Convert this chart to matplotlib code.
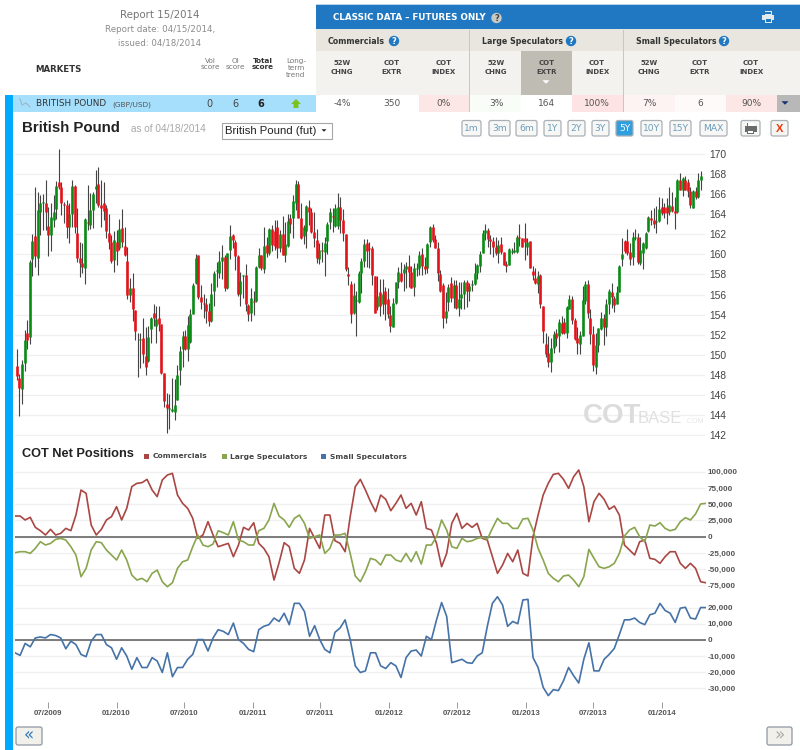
import pandas as pd
import numpy as np
import matplotlib.pyplot as plt
import matplotlib.dates as mdates
from matplotlib.patches import Rectangle, Circle, Polygon, FancyBboxPatch
from matplotlib.ticker import FuncFormatter

# weekly GBP/USD futures
opens = [148.9,147.7,146.6,149.2,152.2,151.8,159.5,161.8,159.6,164.2,
    165.1,165.1,162.8,161.9,163.4,164.5,167.2,166.7,165.0,164.9,
    162.7,164.0,166.8,162.1,159.6,159.1,158.6,163.2,162.9,164.4,
    166.5,167.0,164.9,165.1,164.6,162.1,161.2,159.4,161.2,160.6,
    162.6,160.8,159.3,156.0,156.6,154.5,151.5,151.5,151.7,149.9,
    149.4,152.6,154.2,152.9,153.7,153.1,148.2,145.1,144.6,144.4,
    144.3,145.5,148.5,150.6,151.9,150.6,151.3,154.1,157.1,159.9,
    155.8,155.2,155.1,154.4,153.4,156.4,158.3,158.1,159.3,159.7,
    156.6,160.4,161.9,161.2,159.8,156.1,157.8,157.9,155.0,154.2,
    155.4,155.4,158.7,159.9,158.5,160.9,160.1,162.5,162.3,162.7,
    160.6,162.0,159.9,160.8,163.6,163.6,165.1,167.0,163.6,161.8,
    162.3,164.7,164.2,162.2,161.4,159.5,160.4,160.2,161.3,163.2,
    163.8,162.8,162.8,164.7,163.4,162.0,158.0,157.0,154.2,155.4,
    155.3,158.1,159.3,161.1,160.6,160.6,157.8,154.8,156.3,155.1,
    156.4,155.6,154.0,152.8,155.2,157.2,158.1,158.1,158.5,158.8,
    158.2,156.7,158.5,158.6,160.0,158.8,158.6,161.2,162.7,161.5,
    160.6,158.0,156.9,153.7,155.3,157.1,155.7,156.9,154.7,155.7,
    156.1,157.2,156.4,156.9,157.0,158.1,158.8,160.1,162.1,162.4,
    161.5,161.3,160.7,160.1,161.0,160.2,159.0,158.9,160.2,160.2,
    160.2,161.7,161.6,161.6,160.7,161.3,158.3,157.6,157.0,157.9,
    154.9,151.1,150.2,149.3,150.7,152.2,151.9,153.2,153.3,152.2,
    154.6,155.6,153.5,151.7,151.1,151.9,155.4,157.0,153.7,152.1,
    148.8,151.0,152.6,153.7,152.8,155.1,156.3,155.7,155.1,156.3,
    159.5,161.3,161.3,160.2,159.7,161.6,161.7,159.1,160.1,160.6,
    162.3,163.6,163.4,163.2,163.3,164.7,164.7,164.7,164.2,164.8,
    164.3,164.2,167.4,166.4,167.4,167.2,166.3,164.6,166.3,165.7,
    167.4]
highs = [150.6,148.1,149.5,152.5,153.5,159.4,162.0,166.7,166.2,165.9,
    166.0,167.4,164.7,165.1,165.9,167.3,170.5,167.2,165.2,165.4,
    165.1,167.4,166.9,164.6,161.2,161.1,163.6,166.9,166.1,166.2,
    168.4,168.7,167.4,167.2,164.9,164.0,161.9,162.3,162.4,163.5,
    164.5,162.7,160.7,157.6,158.1,154.5,152.2,152.2,153.7,152.8,
    152.9,153.8,155.1,154.9,154.9,153.1,148.2,146.2,146.1,147.7,
    147.6,149.0,150.9,152.4,152.5,153.9,154.6,157.1,160.0,159.9,
    156.9,156.1,155.7,155.2,157.1,158.3,159.2,160.3,160.9,159.9,
    160.1,162.9,162.0,161.4,159.9,158.2,157.9,159.0,155.1,156.6,
    156.4,158.8,160.6,159.9,162.7,161.7,162.6,162.9,163.4,163.4,
    162.4,163.8,163.2,164.0,164.0,165.9,167.4,167.3,165.1,162.9,
    164.9,165.4,164.6,164.2,162.5,161.1,161.2,161.7,163.2,164.6,
    164.6,165.0,166.1,165.7,164.5,162.0,158.7,157.3,157.1,156.4,
    158.3,159.6,161.5,161.5,161.2,160.8,157.8,157.8,157.5,157.5,
    156.7,156.6,154.9,155.7,157.2,158.7,159.2,159.0,159.2,159.9,
    158.8,159.1,159.1,160.3,160.6,159.7,161.1,162.8,163.0,161.9,
    161.2,158.4,157.1,156.3,157.0,157.7,157.4,157.4,157.2,157.2,
    157.4,157.4,157.1,157.4,159.1,159.0,160.3,162.4,163.0,162.6,
    161.9,161.7,161.7,161.4,161.7,160.2,159.3,160.6,160.6,161.2,
    161.9,163.0,161.6,163.1,161.6,161.3,158.8,158.6,158.3,158.0,
    154.9,152.2,151.9,151.7,152.4,152.6,153.6,153.9,153.7,154.9,
    156.0,155.9,153.7,152.8,152.4,156.8,157.3,157.4,154.6,152.9,
    152.2,152.7,154.3,154.1,155.6,156.5,157.1,155.9,156.8,158.9,
    161.6,161.4,162.5,161.1,162.2,162.5,162.1,161.7,161.2,162.2,
    163.8,164.4,164.6,164.8,165.7,165.6,165.1,165.6,166.7,166.2,
    165.7,167.5,168.1,167.7,167.8,167.5,166.7,166.4,166.7,168.1,
    168.3]
lows = [147.5,143.9,145.1,148.4,150.6,151.1,157.8,158.7,157.9,161.9,
    162.4,162.4,159.8,160.3,162.7,163.5,166.5,163.9,163.1,161.6,
    161.1,162.7,162.1,159.2,157.7,158.1,157.0,162.4,162.5,162.6,
    165.1,164.7,162.7,163.4,161.6,160.5,159.1,158.2,158.9,160.4,
    160.7,159.8,155.6,155.3,153.4,151.5,147.8,148.7,149.2,148.0,
    149.3,151.2,152.9,151.2,152.4,148.1,144.8,142.2,142.6,144.3,
    143.5,145.5,147.0,148.8,150.5,149.4,151.2,154.1,157.0,155.6,
    154.6,153.7,153.2,152.9,153.3,154.9,156.7,157.6,157.5,156.4,
    156.5,159.5,160.6,158.4,155.9,154.9,155.7,154.4,153.4,153.4,
    154.0,155.3,158.6,158.4,158.1,159.7,159.9,160.3,160.4,159.6,
    160.2,159.9,159.2,160.7,162.1,161.6,164.4,163.6,161.5,161.0,
    160.6,162.9,162.1,160.7,159.1,159.0,159.2,157.8,160.0,162.5,
    162.2,162.7,162.5,162.1,161.3,158.3,156.9,153.2,154.1,151.9,
    155.2,156.2,158.7,158.7,158.6,156.9,154.2,154.5,153.9,154.1,
    153.5,153.7,152.3,152.8,155.1,156.6,157.2,156.4,156.6,156.7,
    156.6,155.9,157.8,157.9,157.9,158.0,158.1,160.7,161.2,160.6,
    157.3,156.3,152.7,153.2,154.4,155.3,154.7,154.6,153.9,154.6,
    154.6,154.8,155.4,156.4,156.9,157.5,158.2,160.1,161.4,160.7,
    160.0,159.7,159.9,159.1,160.0,158.9,158.2,158.9,160.0,160.1,
    160.1,160.8,160.7,159.4,159.9,158.6,157.4,157.0,156.2,154.7,
    151.2,149.8,148.8,148.3,150.2,150.9,150.3,152.1,152.1,151.7,
    154.6,153.1,151.5,150.1,150.1,151.9,155.1,153.7,151.1,148.4,
    148.1,150.3,152.5,151.0,151.9,154.1,154.7,154.3,155.1,156.3,
    158.8,160.1,159.9,158.9,158.9,161.4,159.0,158.9,158.5,160.5,
    162.2,162.9,162.6,162.1,163.2,163.9,163.6,163.0,163.9,164.2,
    162.5,164.1,166.4,165.8,166.4,165.7,164.6,164.6,165.5,165.6,
    166.4]
closes = [147.9,146.7,149.1,151.5,151.5,159.2,161.3,159.8,164.4,165.1,
    165.2,164.2,161.9,163.7,164.2,166.8,166.7,165.1,164.9,162.7,
    164.0,166.8,162.7,159.6,159.1,158.7,163.5,163.1,164.4,166.0,
    166.8,164.9,164.6,164.3,162.3,161.2,159.3,161.4,160.3,162.5,
    161.2,159.9,156.0,156.6,154.6,152.4,151.5,151.6,150.1,148.8,
    151.8,153.7,153.7,153.6,153.1,148.2,145.4,144.7,144.7,144.6,
    145.0,148.0,150.4,151.9,150.6,153.0,154.1,156.9,159.6,155.8,
    155.3,155.1,154.4,153.4,156.1,158.1,158.4,159.3,159.7,156.6,
    160.1,161.8,161.4,159.8,156.1,157.3,157.9,155.1,154.1,155.7,
    155.3,158.7,159.9,158.6,160.8,160.1,162.5,160.9,160.8,160.6,
    162.0,159.9,161.0,163.3,163.0,165.3,167.0,163.6,161.6,162.7,
    164.8,164.2,162.2,161.6,159.6,160.4,160.3,161.1,163.0,164.2,
    163.7,164.6,164.7,163.4,162.1,158.5,157.8,154.1,156.0,155.5,
    158.1,159.3,161.0,160.3,160.5,157.9,154.2,155.9,154.9,156.1,
    155.1,154.1,152.9,155.2,157.2,158.2,157.3,158.5,158.8,158.2,
    156.6,158.6,158.6,159.9,158.8,158.5,161.0,162.7,161.4,160.6,
    158.1,156.4,153.7,154.4,156.7,155.7,156.9,154.7,155.6,156.1,
    157.2,156.4,156.8,157.0,158.1,158.9,160.0,162.1,162.4,161.5,
    161.3,160.7,160.1,160.9,160.2,158.9,158.8,160.5,160.3,160.4,
    161.7,161.6,160.7,161.2,161.2,158.6,157.9,157.1,157.8,155.1,
    152.4,150.1,149.3,150.7,152.1,151.7,153.3,152.2,152.2,154.8,
    155.6,153.5,151.6,151.2,152.0,155.5,157.0,154.2,152.1,149.0,
    151.0,152.7,153.7,152.8,155.1,156.4,155.8,155.0,156.3,158.8,
    160.0,160.3,160.1,159.5,161.7,161.7,159.2,160.4,161.1,162.1,
    163.7,163.4,163.0,163.3,164.5,164.1,164.1,164.1,164.9,164.3,
    164.1,167.4,166.4,167.6,166.4,166.3,164.9,166.3,165.7,167.4,
    167.8]
price_ticks = list(range(142, 172, 2))

# net positions, thousands of contracts
commercials = [31.8,31.8,25.7,29.8,14.4,9.2,2.6,11.3,2.6,5.1,12.8,9.2,33.3,71.8,66.7,18.0,2.6,
    11.3,25.7,30.8,46.2,25.7,43.6,77.0,82.1,83.1,88.2,71.8,61.6,87.2,94.9,97.5,64.1,51.3,
    43.6,28.2,-2.6,2.6,23.1,2.6,-15.4,-12.8,-10.3,-30.8,-12.8,14.4,10.3,21.5,-10.3,-18.0,-30.8,-66.7,
    -40.0,-9.2,-15.4,-48.7,-56.4,-35.9,12.8,-2.6,-18.0,33.3,33.3,-6.2,-10.3,-23.1,30.8,77.0,88.2,
    71.8,53.9,38.5,64.1,57.5,40.0,51.3,64.1,43.6,51.3,33.3,53.9,12.8,10.3,-10.3,-46.2,-25.7,
    20.5,35.9,12.8,20.5,14.4,20.5,-2.6,-5.1,-30.8,-56.4,-43.6,-25.7,-38.5,-20.5,-56.4,-60.5,
    0.0,33.3,64.1,82.1,95.9,97.5,88.2,74.4,92.3,102.6,77.0,23.1,53.9,66.7,57.5,42.1,47.2,33.3,
    -12.8,-20.5,-28.2,-7.7,-5.1,-33.3,-34.9,-41.0,-30.8,-23.1,-23.1,-41.0,-48.7,-41.0,-48.7,-69.3,-70.8]
large_specs = [-24.6,-23.1,-23.1,-25.7,-18.0,-7.7,-12.8,-10.3,-4.1,-2.6,-5.1,-15.4,-28.2,-61.6,-48.7,-20.5,-7.7,
    -9.2,-20.5,-28.2,-35.9,-20.5,-35.9,-59.0,-66.7,-64.1,-69.3,-56.4,-51.3,-69.3,-77.0,-70.8,-48.7,-38.5,
    -35.9,-15.4,2.6,-12.8,-15.4,-11.3,9.2,6.2,2.6,23.1,-5.1,-7.7,-12.8,-12.8,9.2,12.8,25.7,51.3,
    31.8,25.7,14.4,28.2,33.3,20.5,-2.6,0.0,2.6,-25.7,-18.0,2.6,2.6,5.1,-25.7,-60.5,-69.3,
    -53.9,-33.3,-35.9,-43.6,-28.2,-28.2,-35.9,-38.5,-25.7,-38.5,-23.1,-42.1,-12.8,-12.8,0.0,25.7,10.3,
    -15.4,-18.0,-2.6,-7.7,-6.2,-2.6,-1.0,-4.1,12.8,28.2,20.5,20.5,12.8,12.8,27.2,28.2,
    10.3,-18.0,-35.9,-56.4,-64.1,-69.3,-60.5,-59.0,-66.7,-77.0,-61.6,-19.5,-33.3,-46.2,-48.7,-46.2,-41.0,-25.7,
    1.0,10.3,14.4,0.0,-7.7,18.0,16.4,21.5,12.8,9.2,11.3,23.1,29.2,25.7,34.9,50.3,51.3]
small_specs = [-8.0,-9.6,-2.2,-4.3,1.2,1.8,1.2,3.3,2.7,1.2,-5.5,-0.8,-2.9,-9.0,-10.4,-0.8,3.3,
    3.3,-2.9,-4.9,-12.0,-4.9,-10.0,-18.2,-11.0,-17.1,-17.1,-11.0,-13.1,-20.2,-8.0,-22.8,-17.1,-17.1,
    -12.0,-9.0,0.2,0.2,-6.9,1.2,6.3,5.3,3.3,10.4,0.2,-2.2,-5.9,-7.3,6.3,8.4,9.4,13.5,
    11.4,16.5,9.4,22.6,22.6,17.5,2.2,8.8,0.2,-5.9,-8.0,4.7,7.3,12.4,0.2,-16.1,-20.2,
    -19.2,-8.0,-8.0,-16.1,-17.7,-14.1,-16.1,-23.3,-11.0,-6.9,-6.3,-10.0,2.2,0.2,12.4,23.1,14.5,
    -14.1,-13.1,-12.0,-14.1,-14.5,-10.0,-8.0,8.4,22.6,26.7,21.6,8.4,11.4,10.0,24.7,25.1,
    -11.0,-17.1,-29.4,-34.5,-30.8,-31.4,-25.3,-17.1,-22.2,-26.7,-12.0,-1.8,-19.2,-19.2,-12.0,-9.0,
    -5.3,3.3,12.4,12.4,13.5,10.8,9.4,15.5,16.5,22.6,18.2,16.5,10.8,19.6,20.2,13.5,12.9,20.0,20.0]
net_ticks_top = [-75000, -50000, -25000, 0, 25000, 50000, 75000, 100000]
net_ticks_bottom = [-30000, -20000, -10000, 0, 10000, 20000]
date_ticks = ['2009-07-01', '2010-01-01', '2010-07-01', '2011-01-01', '2011-07-01',
              '2012-01-01', '2012-07-01', '2013-01-01', '2013-07-01', '2014-01-01']

# table contents
col_names = ['52W\nCHNG', 'COT\nEXTR', 'COT\nINDEX'] * 3
col_centers = [342, 392, 444, 496, 547, 597, 649, 700, 751]
row_values = ['-4%', '350', '0%', '3%', '164', '100%', '7%', '6', '90%']
groups = [('Commercials', 328, 394), ('Large Speculators', 482, 571), ('Small Speculators', 636, 724)]
range_buttons = [('1m', 462, 481), ('3m', 489, 510), ('6m', 516, 537), ('1Y', 544, 561), ('2Y', 568, 585),
                 ('3Y', 592, 609), ('5Y', 616, 633), ('10Y', 641, 662), ('15Y', 670, 691), ('MAX', 700, 727)]

W, H = 800, 750
ARIAL = 'Liberation Sans'
VERD = 'DejaVu Sans'
GRID = '#f0f0f0'
TICK = '#555555'
RED = '#aa4643'
GREEN = '#89a54e'
BLUE = '#4572a7'


def px_axes(fig, left, top, right, bottom):
    return fig.add_axes([left / W, 1 - bottom / H, (right - left) / W, (bottom - top) / H])


def box(ax, x0, y0, x1, y1, color, **kw):
    ax.add_patch(Rectangle((x0, y0), x1 - x0, y1 - y0, facecolor=color, edgecolor='none', **kw))


def button(ax, x0, y0, x1, y1, fill='#f5f5f2', edge='#a9b0b6'):
    ax.add_patch(FancyBboxPatch((x0 + 1, y0 + 1), x1 - x0 - 2, y1 - y0 - 2, boxstyle='round,pad=1,rounding_size=2',
                                facecolor=fill, edgecolor=edge, linewidth=0.9))


def help_icon(ax, x, y, color='#1f78c1', mark='white'):
    ax.add_patch(Circle((x, y), 5.2, facecolor=color, edgecolor='none'))
    ax.text(x, y + 0.3, '?', color=mark, fontsize=6, fontweight='bold', ha='center', va='center', family=VERD)


def printer(ax, x, y, color, inner='white'):
    box(ax, x - 3.5, y - 6, x + 3.5, y - 2, color)
    box(ax, x - 3, y - 5.2, x + 3, y - 2.6, inner)
    box(ax, x - 6, y - 2.5, x + 6, y + 3, color)
    box(ax, x - 3.5, y + 1, x + 3.5, y + 5.5, color)
    box(ax, x - 2.5, y + 2, x + 2.5, y + 4.5, inner)


def tri(ax, x, y, size, color, up=False):
    s = -size if up else size
    ax.add_patch(Polygon([(x - size, y - s / 2), (x + size, y - s / 2), (x, y + s / 2)], facecolor=color, edgecolor='none'))


def thousands(v, pos):
    return f'{int(v):,}'


fig = plt.figure(figsize=(W / 100, H / 100), dpi=100)

# page furniture in pixel coordinates
page = fig.add_axes([0, 0, 1, 1])
page.set_xlim(0, W)
page.set_ylim(H, 0)
page.axis('off')

box(page, 5, 95, 13, 750, '#00aaff')
box(page, 13, 95, 316, 112, '#a5dffc')
box(page, 316, 4, 800, 5.5, '#b9d4e8')
box(page, 316, 5, 800, 29, '#1f78c1')
box(page, 316, 29, 800, 51, '#e8e6df')
box(page, 316, 51, 800, 95, '#f3f2ee')
box(page, 521, 51, 572, 95, '#bfbcb4')
tri(page, 546, 82, 3.5, 'white')
for x in [469.5, 623.5]:
    box(page, x - 0.5, 30, x + 0.5, 112, '#c9c7c1')

box(page, 419, 95, 469, 112, '#fde6e6')
box(page, 470, 95, 521, 112, '#f8fdf8')
box(page, 572, 95, 623, 112, '#fde3e3')
box(page, 624, 95, 675, 112, '#fef3f3')
box(page, 675, 95, 726, 112, '#fffafa')
box(page, 726, 95, 777, 112, '#fde6e6')
box(page, 777, 95, 800, 112, '#b8b8b8')
tri(page, 785, 103, 3.5, '#14326e')

page.text(160, 15, 'Report 15/2014', color='#777777', fontsize=7.4, ha='center', va='center', family=VERD)
page.text(160, 30, 'Report date: 04/15/2014,', color='#8c8c8c', fontsize=6.3, ha='center', va='center', family=VERD)
page.text(160, 43, 'issued: 04/18/2014', color='#8c8c8c', fontsize=6.2, ha='center', va='center', family=VERD)
page.text(35, 70, 'MARKETS', color='#333333', fontsize=6.2, fontweight='bold', ha='left', va='center', family=VERD)
page.text(210, 64, 'Vol\nscore', color='#777777', fontsize=5.2, ha='center', va='center', family=VERD, linespacing=1.15)
page.text(235, 64, 'OI\nscore', color='#777777', fontsize=5.2, ha='center', va='center', family=VERD, linespacing=1.15)
page.text(263, 64, 'Total\nscore', color='#333333', fontsize=5.2, fontweight='bold', ha='center', va='center', family=VERD, linespacing=1.15)
page.text(296, 68, 'Long-\nterm\ntrend', color='#777777', fontsize=5.2, ha='center', va='center', family=VERD, linespacing=1.15)

page.plot([20, 22, 26, 30], [99, 105, 103, 107], color='#9bb6c6', lw=0.8)
page.text(36, 104, 'BRITISH POUND', color='#333333', fontsize=6.4, ha='left', va='center', family=VERD)
page.text(112, 104.5, '(GBP/USD)', color='#555555', fontsize=5.3, ha='left', va='center', family=VERD)
page.text(209, 104, '0', color='#444444', fontsize=7, ha='center', va='center', family=VERD)
page.text(235, 104, '6', color='#444444', fontsize=7, ha='center', va='center', family=VERD)
page.text(261, 104, '6', color='#222222', fontsize=7, fontweight='bold', ha='center', va='center', family=VERD)
page.add_patch(Polygon([(296, 99), (301, 104), (298.5, 104), (298.5, 108), (293.5, 108), (293.5, 104), (291, 104)],
                       facecolor='#7cc21e', edgecolor='none'))

page.text(333, 18, 'CLASSIC DATA – FUTURES ONLY', color='white', fontsize=6.3, fontweight='bold', ha='left', va='center', family=VERD)
help_icon(page, 496.5, 18, color='#c9c9c4', mark='#444444')
printer(page, 768, 17, '#e4e9ee', inner='#1f78c1')
for name, x, icon in groups:
    page.text(x, 41.5, name, color='#333333', fontsize=5.7, fontweight='bold', ha='left', va='center', family=VERD)
    help_icon(page, icon, 41)
for name, x in zip(col_names, col_centers):
    page.text(x, 67.5, name, color='#444444', fontsize=5, fontweight='bold', ha='center', va='center', family=VERD, linespacing=1.65)
for val, x in zip(row_values, col_centers):
    page.text(x, 104, val, color='#555555', fontsize=6.5, ha='center', va='center', family=VERD)

page.text(22, 127.5, 'British Pound', color='#222222', fontsize=10.8, fontweight='bold', ha='left', va='center', family=ARIAL)
page.text(131, 129.5, 'as of 04/18/2014', color='#a8a8a8', fontsize=7.2, ha='left', va='center', family=ARIAL)
page.add_patch(Rectangle((221.5, 122.5), 110, 16, facecolor='white', edgecolor='#a5a5a5', linewidth=0.8))
page.text(225, 131, 'British Pound (fut)', color='#222222', fontsize=8.2, ha='left', va='center', family=ARIAL)
tri(page, 324, 130.5, 2.5, '#222222')

for label, x0, x1 in range_buttons:
    active = label == '5Y'
    button(page, x0, 120.5, x1, 136, fill='#2f9fe0' if active else '#f7f7f5')
    page.text((x0 + x1) / 2, 128.5, label, color='white' if active else '#6d9dbb', fontsize=6.6,
              ha='center', va='center', family=VERD)
button(page, 741, 120.5, 760, 136)
printer(page, 750.5, 128.5, '#6b6b6b')
button(page, 771, 120.5, 788, 136)
page.text(779.5, 128.5, 'X', color='#e8380d', fontsize=8, fontweight='bold', ha='center', va='center', family=ARIAL)

page.text(22, 454, 'COT Net Positions', color='#222222', fontsize=9.2, fontweight='bold', ha='left', va='center', family=ARIAL)
for name, x, color in [('Commercials', 146.5, RED), ('Large Speculators', 224, GREEN), ('Small Speculators', 323, BLUE)]:
    box(page, x - 2.5, 453.5, x + 2.5, 459, color)
    page.text(x + 6.5, 456.5, name, color='#444444', fontsize=5.4, fontweight='bold', ha='left', va='center', family=VERD)

button(page, 16, 727, 42, 745, fill='#f2f0ea', edge='#8e97a3')
page.text(29, 735.5, '«', color='#2d78c0', fontsize=12, ha='center', va='center', family=VERD)
button(page, 767, 727, 792, 745, fill='#f2f0ea', edge='#8e97a3')
page.text(779.5, 735.5, '»', color='#a9a9a9', fontsize=12, ha='center', va='center', family=VERD)

# price panel
ax = px_axes(fig, 15, 145, 705, 436)
ax.patch.set_alpha(0)
candle_dates = mdates.date2num(pd.date_range(end='2014-04-18', periods=len(closes), freq='W-FRI'))
o = np.array(opens)
c = np.array(closes)
up = c >= o
ax.vlines(candle_dates, lows, highs, color='#444444', linewidth=0.8, zorder=3)
ax.vlines(candle_dates[up], o[up], c[up], color='#0a8c14', linewidth=1.9, zorder=4)
ax.vlines(candle_dates[~up], o[~up], c[~up], color='#e4121a', linewidth=1.9, zorder=4)
day_px = 2.631 / 7
ax.set_xlim(candle_dates[0] - 1.7 / day_px, candle_dates[-1] + 4 / day_px)
ax.set_ylim(141.9, 170.9)
ax.set_yticks(price_ticks)
ax.yaxis.tick_right()
ax.tick_params(axis='y', length=0, pad=3, labelsize=7.4, labelcolor='#444444')
for lab in ax.get_yticklabels():
    lab.set_family(ARIAL)
ax.set_xticks([])
ax.grid(axis='y', color=GRID, linewidth=1, zorder=0)
ax.set_axisbelow(True)
for s in ax.spines.values():
    s.set_visible(False)
ax.text(0.823, 0.07, 'COT', transform=ax.transAxes, color='#dcdcdc', fontsize=20, fontweight='bold', ha='left', va='center', family=ARIAL)
ax.text(0.903, 0.06, 'BASE', transform=ax.transAxes, color='#e0e0e0', fontsize=12, ha='left', va='center', family=ARIAL)
ax.text(0.972, 0.05, '.COM', transform=ax.transAxes, color='#e6e6e6', fontsize=5, ha='left', va='center', family=ARIAL)

# net position panels
cot_dates = pd.date_range('2009-04-04', '2014-04-28', periods=len(small_specs))
ax_top = px_axes(fig, 15, 465, 705.7, 592)
ax_bot = px_axes(fig, 15, 592, 705.7, 702)
ax_top.plot(cot_dates, np.array(commercials) * 1000, color=RED, linewidth=1.2, zorder=3)
ax_top.plot(cot_dates, np.array(large_specs) * 1000, color=GREEN, linewidth=1.2, zorder=3)
ax_bot.plot(cot_dates, np.array(small_specs) * 1000, color=BLUE, linewidth=1.2, zorder=3)
ax_top.set_ylim(-85100, 110300)
ax_bot.set_ylim(-38450, 29630)
ax_top.set_yticks(net_ticks_top)
ax_bot.set_yticks(net_ticks_bottom)

tick_dates = pd.to_datetime(date_ticks)
for a in [ax_top, ax_bot]:
    a.patch.set_alpha(0)
    a.set_xlim(cot_dates[0], cot_dates[-1])
    a.axhline(0, color='#5a5a5a', linewidth=1.1, zorder=2)
    a.yaxis.tick_right()
    a.yaxis.set_major_formatter(FuncFormatter(thousands))
    a.tick_params(axis='y', length=0, pad=1.5, labelsize=5.9, labelcolor=TICK)
    a.grid(axis='y', color=GRID, linewidth=1, zorder=0)
    a.set_axisbelow(True)
    for lab in a.get_yticklabels():
        lab.set_family(ARIAL)
        lab.set_fontweight('bold')
    for s in a.spines.values():
        s.set_visible(False)
ax_top.set_xticks([])
ax_bot.set_xticks(tick_dates)
ax_bot.set_xticklabels([d.strftime('%m/%Y') for d in tick_dates], family=ARIAL, fontweight='bold')
ax_bot.tick_params(axis='x', length=4.3, width=0.7, color='#999999', pad=1.2, labelsize=5.7, labelcolor=TICK)

plt.savefig('out.png', dpi=100)
